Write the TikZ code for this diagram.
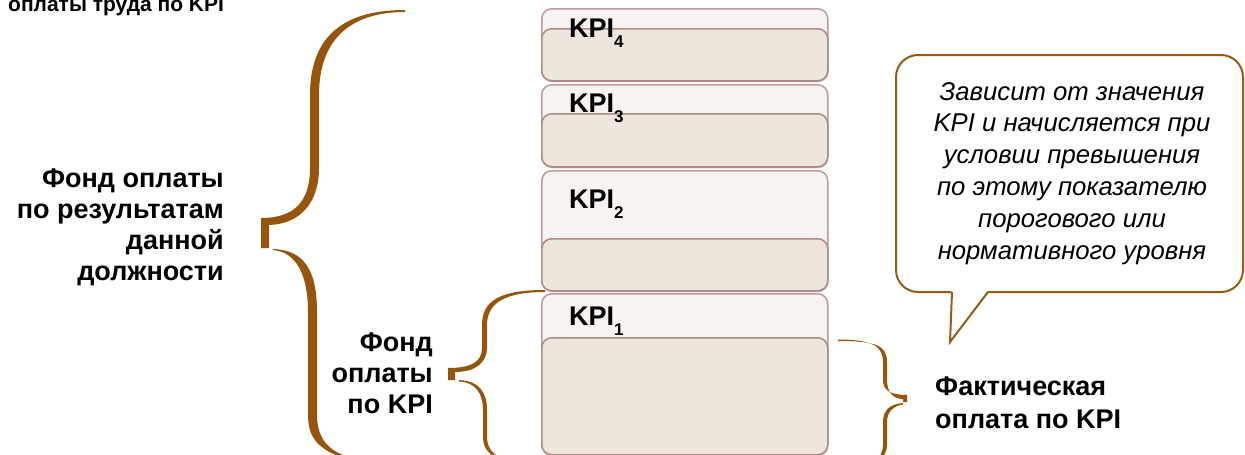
\documentclass[tikz,border=0pt]{standalone}
\usepackage{fontspec}
\setmainfont{Liberation Sans}
\usetikzlibrary{shadows}
\definecolor{bracebrown}{RGB}{150,85,10}
\definecolor{calloutbrown}{RGB}{150,92,22}
\definecolor{outerfill}{RGB}{246,243,240}
\definecolor{innerfill}{RGB}{237,230,221}
\definecolor{boxedge}{RGB}{192,155,155}
\definecolor{inneredge}{RGB}{180,136,136}
\newcommand\kpilabel[1]{KPI\raisebox{-0.38em}{\fontsize{17}{17}\selectfont #1}}
\begin{document}
\begin{tikzpicture}[x=1pt,y=-1pt,
  outerbox/.style={draw=boxedge, fill=outerfill, line width=1.5pt, rounded corners=10pt,
    minimum width=286pt, anchor=north west, inner sep=0pt,
    drop shadow={shadow xshift=0.6pt, shadow yshift=-1.2pt, opacity=0.3}},
  innerbox/.style={draw=inneredge, fill=innerfill, line width=1.5pt, rounded corners=10pt,
    minimum width=286pt, anchor=north west, inner sep=0pt,
    drop shadow={shadow xshift=0.6pt, shadow yshift=-1.5pt, opacity=0.35}},
  kpi/.style={anchor=base west, inner sep=0pt, font=\fontsize{27}{27}\selectfont\bfseries},
  bigtext/.style={inner sep=0pt, align=right, font=\fontsize{27}{31}\selectfont\bfseries},
  bracefill/.style={fill=bracebrown, draw=none},
  callout/.style={draw=calloutbrown, fill=white, line width=2pt},
  callouttext/.style={inner sep=0pt, align=center, font=\fontsize{25.7}{31.8}\selectfont\itshape}
]
\useasboundingbox (0,0) rectangle (1245,455);

% title fragment
\node[anchor=base west, inner sep=0pt, font=\fontsize{21}{21}\selectfont\bfseries] (title) at (8,11) {оплаты труда по KPI};

% KPI stack
\node[outerbox, minimum height=72pt] (k4o) at (541,8) {};
\node[innerbox, minimum height=52pt] (k4i) at (541,28) {};
\node[kpi] (k4) at (569,37) {\kpilabel{4}};

\node[outerbox, minimum height=82pt] (k3o) at (541,84) {};
\node[innerbox, minimum height=53pt] (k3i) at (541,113) {};
\node[kpi] (k3) at (569,112) {\kpilabel{3}};

\node[outerbox, minimum height=120pt] (k2o) at (541,170) {};
\node[innerbox, minimum height=52pt] (k2i) at (541,238) {};
\node[kpi] (k2) at (569,208) {\kpilabel{2}};

\node[outerbox, minimum height=161pt] (k1o) at (541,293) {};
\node[innerbox, minimum height=117pt] (k1i) at (541,337) {};
\node[kpi] (k1) at (569,325) {\kpilabel{1}};

% big left brace
\fill[bracefill] (405,10) .. controls (345,10) and (310,35) .. (310,95) -- (310,168)
  .. controls (310,203) and (293,218) .. (261,218) -- (261,248) -- (269,248) -- (269,225)
  .. controls (300,224) and (319,203) .. (319,168) -- (319,95)
  .. controls (319,38) and (352,12) .. (405,12) -- cycle;
\fill[bracefill] (273,249) .. controls (304,250) and (317,270) .. (317,312) -- (317,415)
  .. controls (317,440) and (330,455) .. (362,460) -- (356,462)
  .. controls (320,452) and (308,440) .. (308,415) -- (308,312)
  .. controls (308,276) and (297,252) .. (273,250) -- cycle;

% small left brace
\fill[bracefill] (545,290) .. controls (501,290) and (482,300) .. (482,325) -- (482,348)
  .. controls (482,362) and (471,368) .. (448,368) -- (448,380) -- (455,380) -- (455,372)
  .. controls (476,372) and (487,362) .. (487,348) -- (487,325)
  .. controls (487,303) and (505,292) .. (545,292) -- cycle;
\fill[bracefill] (459,380) .. controls (479,381) and (487,392) .. (487,410) -- (487,437)
  .. controls (487,449) and (494,456) .. (506,460) -- (503,461)
  .. controls (490,456) and (483,449) .. (483,437) -- (483,410)
  .. controls (483,393) and (475,382) .. (459,381.5) -- cycle;

% right brace
\fill[bracefill] (838,339.5) .. controls (874,339.5) and (883,347) .. (883,362) -- (883,380)
  .. controls (883,390) and (890,395) .. (907,395) -- (907,402) -- (903,402) -- (903,399)
  .. controls (893,399) and (887,392) .. (887,380) -- (887,362)
  .. controls (887,345) and (875,341) .. (838,341) -- cycle;
\fill[bracefill] (903,403) .. controls (890,404) and (883,410) .. (883,422) -- (883,445)
  .. controls (883,452) and (880,457) .. (875,461) -- (878,461)
  .. controls (884,456) and (887,452) .. (887,445) -- (887,422)
  .. controls (887,412) and (893,406) .. (903,404.5) -- cycle;

% texts (base anchor = last line)
\node[bigtext, anchor=base east] (fund) at (224,280) {Фонд оплаты\\по результатам\\данной\\должности};
\node[bigtext, anchor=base east] (fundkpi) at (433,413) {Фонд\\оплаты\\по KPI};
\node[inner sep=0pt, align=left, font=\fontsize{27}{33}\selectfont\bfseries, anchor=base west] (fact) at (935,428) {Фактическая\\оплата по KPI};

% callout
\draw[callout, rounded corners=22pt] (896,55) rectangle (1243,292);
\fill[white] (951.5,290) -- (950,342) -- (988.5,290) -- cycle;
\draw[calloutbrown, line width=2pt, line join=miter] (952,292) -- (950,342) -- (988,292);
\node[callouttext, anchor=base] (note) at (1072,259) {Зависит от значения\\KPI и начисляется при\\условии превышения\\по этому показателю\\порогового или\\нормативного уровня};
\end{tikzpicture}
\end{document}
